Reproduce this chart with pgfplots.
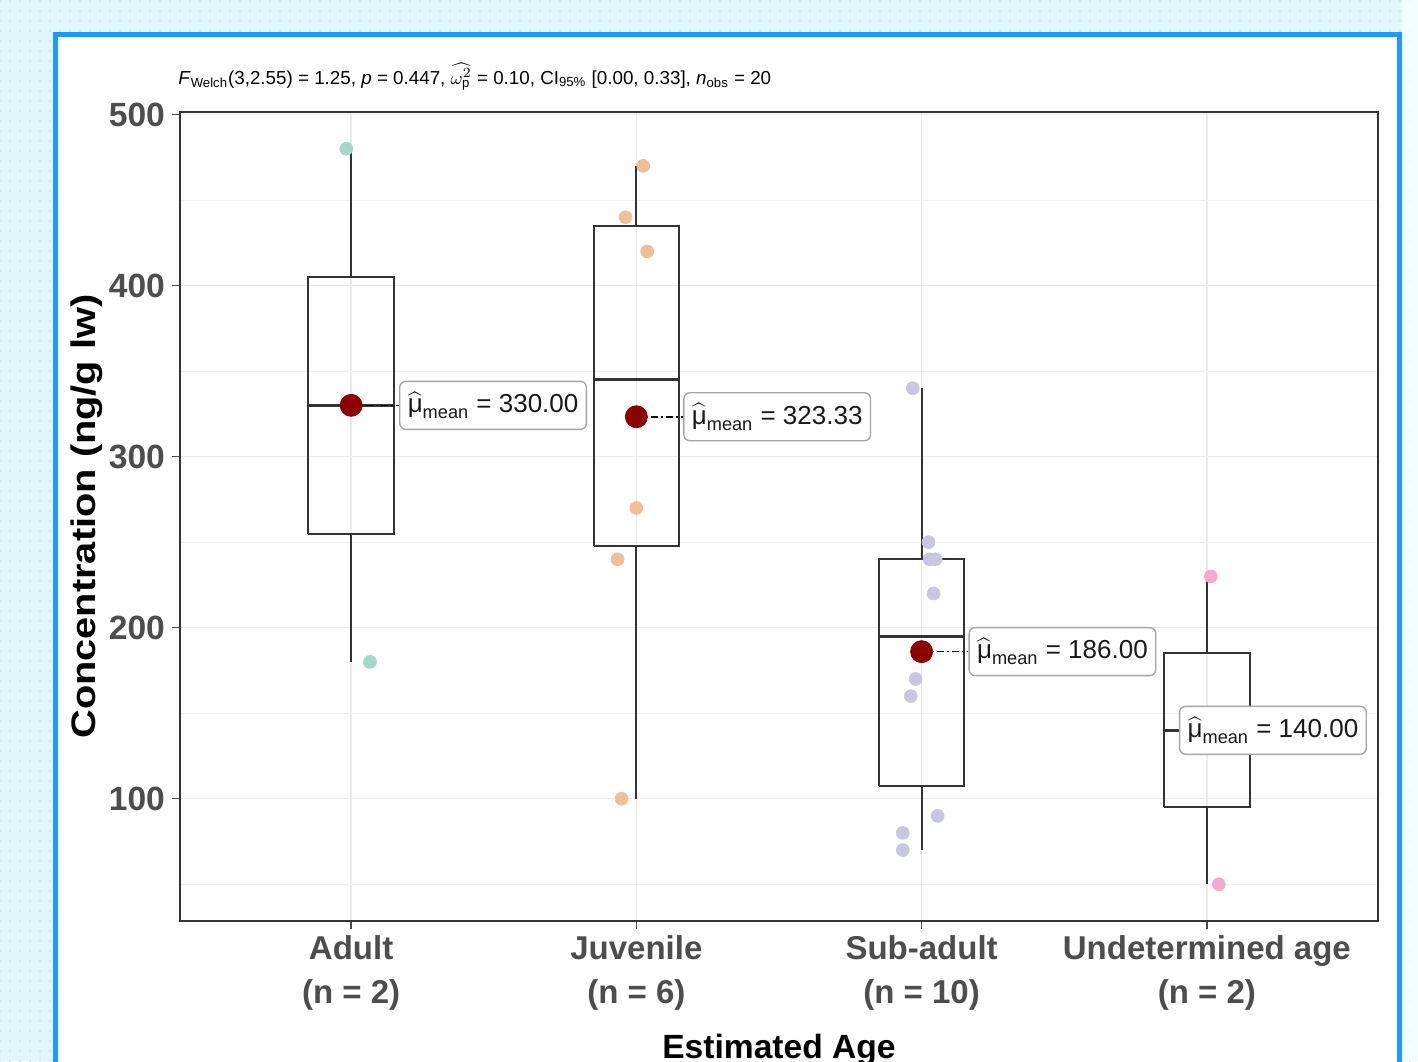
\documentclass[border=0pt]{standalone}
\usepackage{amsmath}
\usepackage{fontspec}
\setmainfont{Liberation Sans}
\newfontfamily\ylabfont{Liberation Sans}[FakeStretch=1.17]
\usepackage{pgfplots}
\pgfplotsset{compat=1.18}
\usetikzlibrary{patterns.meta}

\definecolor{bgcyan}{HTML}{DFF7FB}
\definecolor{frameblue}{HTML}{1A9BFF}
\definecolor{ptA}{RGB}{164,216,201}
\definecolor{ptB}{RGB}{240,191,154}
\definecolor{ptC}{RGB}{200,198,225}
\definecolor{ptD}{RGB}{245,169,208}
\definecolor{meanred}{HTML}{8B0000}
\definecolor{tickgray}{HTML}{4D4D4D}
\definecolor{gridgray}{HTML}{EBEBEB}
\definecolor{boxline}{HTML}{333333}

\newcommand{\mulab}[1]{$\widehat{\text{μ}}_{\text{mean}}$ = #1}

\begin{document}
\begin{tikzpicture}
\useasboundingbox (0,0) rectangle (709pt,-530.5pt);
\clip (0,0) rectangle (709pt,-530.5pt);
\fill[bgcyan] (0,0) rectangle (709pt,-530.5pt);
\fill[pattern={Dots[radius=0.4pt,distance=5pt]}, pattern color=black!16] (0,0) rectangle (709pt,-530.5pt);
\fill[white, opacity=0.6] (701pt,0) rectangle (709pt,-530.5pt);
\filldraw[fill=white, draw=frameblue, line width=2.5pt] (27.75pt,-17pt) rectangle (699.75pt,-545pt);

\node[anchor=base west, inner sep=0pt, font=\fontsize{9.4pt}{11pt}\selectfont] at (89pt,-42pt)
  {\textit{F}\textsubscript{Welch}(3,2.55) = 1.25, \textit{p} = 0.447, $\widehat{\omega_{\mathrm{p}}^{2}}$ = 0.10, CI\textsubscript{95\%} [0.00, 0.33], \textit{n}\textsubscript{obs} = 20};

\begin{axis}[
  at={(90pt,-460.5pt)}, anchor=south west,
  scale only axis, width=599pt, height=404.5pt,
  xmin=0.4, xmax=4.6, ymin=28.5, ymax=501.5,
  xtick={1,2,3,4},
  xticklabels={{Adult\\(n = 2)},{Juvenile\\(n = 6)},{Sub-adult\\(n = 10)},{Undetermined age\\(n = 2)}},
  ytick={100,200,300,400,500},
  minor ytick={50,150,250,350,450},
  xmajorgrids, ymajorgrids, yminorgrids,
  major grid style={gridgray, line width=0.7pt},
  minor grid style={gridgray!70, line width=0.5pt},
  axis line style={boxline, line width=1pt},
  tick align=outside, xtick pos=bottom, ytick pos=left,
  major tick length=4pt, minor tick length=0pt,
  tick style={tickgray, line width=0.7pt},
  /pgf/number format/assume math mode=true,
  yticklabel style={font=\fontsize{16.8pt}{18pt}\selectfont\bfseries, text=tickgray},
  xticklabel style={font=\fontsize{16.5pt}{22pt}\selectfont\bfseries, text=tickgray, align=center},
  xlabel={Estimated Age},
  xlabel style={font=\fontsize{16.8pt}{18pt}\selectfont\bfseries, yshift=-5pt},
  ylabel={\ylabfont Concentration (ng/g lw)},
  ylabel style={font=\fontsize{17pt}{18pt}\selectfont\bfseries},
  ylabel shift=-4pt,
]
% boxes
\addplot[boxline, line width=1pt] coordinates {(1,180) (1,255)};
\addplot[boxline, line width=1pt] coordinates {(1,405) (1,480)};
\addplot[boxline, line width=1pt] coordinates {(0.85,255) (1.15,255) (1.15,405) (0.85,405) (0.85,255)};
\addplot[boxline, line width=1.6pt] coordinates {(0.85,330) (1.15,330)};

\addplot[boxline, line width=1pt] coordinates {(2,100) (2,247.5)};
\addplot[boxline, line width=1pt] coordinates {(2,435) (2,470)};
\addplot[boxline, line width=1pt] coordinates {(1.85,247.5) (2.15,247.5) (2.15,435) (1.85,435) (1.85,247.5)};
\addplot[boxline, line width=1.6pt] coordinates {(1.85,345) (2.15,345)};

\addplot[boxline, line width=1pt] coordinates {(3,70) (3,107.5)};
\addplot[boxline, line width=1pt] coordinates {(3,240) (3,340)};
\addplot[boxline, line width=1pt] coordinates {(2.85,107.5) (3.15,107.5) (3.15,240) (2.85,240) (2.85,107.5)};
\addplot[boxline, line width=1.6pt] coordinates {(2.85,195) (3.15,195)};

\addplot[boxline, line width=1pt] coordinates {(4,50) (4,95)};
\addplot[boxline, line width=1pt] coordinates {(4,185) (4,230)};
\addplot[boxline, line width=1pt] coordinates {(3.85,95) (4.15,95) (4.15,185) (3.85,185) (3.85,95)};
\addplot[boxline, line width=1.6pt] coordinates {(3.85,140) (4.15,140)};

% jittered points
\addplot[only marks, mark=*, mark size=3.2pt, ptA, mark options={draw=ptA, fill=ptA}] coordinates {(0.983,480) (1.066,180)};
\addplot[only marks, mark=*, mark size=3.2pt, ptB, mark options={draw=ptB, fill=ptB}] coordinates {(2.024,470) (1.962,440) (2.038,420) (2.0,270) (1.934,240) (1.948,100)};
\addplot[only marks, mark=*, mark size=3.2pt, ptC, mark options={draw=ptC, fill=ptC}] coordinates {(2.969,340) (3.024,250) (3.049,240) (3.028,240) (3.042,220) (2.979,170) (2.962,160) (3.056,90) (2.934,80) (2.934,70)};
\addplot[only marks, mark=*, mark size=3.2pt, ptD, mark options={draw=ptD, fill=ptD}] coordinates {(4.014,230) (4.042,50)};

% means (the mean of the last group, 140, lies under its label)
\addplot[only marks, mark=*, mark size=5.5pt, meanred, mark options={draw=meanred, fill=meanred}] coordinates {(1,330) (2,323.33) (3,186)};

% connectors
\addplot[black, line width=0.8pt, dash pattern=on 3.5pt off 1.5pt on 1pt off 1.5pt] coordinates {(1,330) (1.168,330)};
\addplot[black, line width=0.8pt, dash pattern=on 3.5pt off 1.5pt on 1pt off 1.5pt] coordinates {(2,323.33) (2.164,323.33)};
\addplot[black, line width=0.8pt, dash pattern=on 3.5pt off 1.5pt on 1pt off 1.5pt] coordinates {(3,186) (3.164,186)};

% labels
\tikzset{mlab/.style={anchor=west, draw=gray!70, fill=white, rounded corners=3pt, line width=0.7pt, inner xsep=4pt, minimum height=24pt, font=\fontsize{13pt}{14pt}\selectfont, text=black!90}}
\node[mlab] at (axis cs:1.168,330) {\mulab{330.00}};
\node[mlab] at (axis cs:2.164,323.33) {\mulab{323.33}};
\node[mlab] at (axis cs:3.164,186) {\mulab{186.00}};
\node[mlab] at (axis cs:3.902,140) {\mulab{140.00}};
\end{axis}
\end{tikzpicture}
\end{document}
